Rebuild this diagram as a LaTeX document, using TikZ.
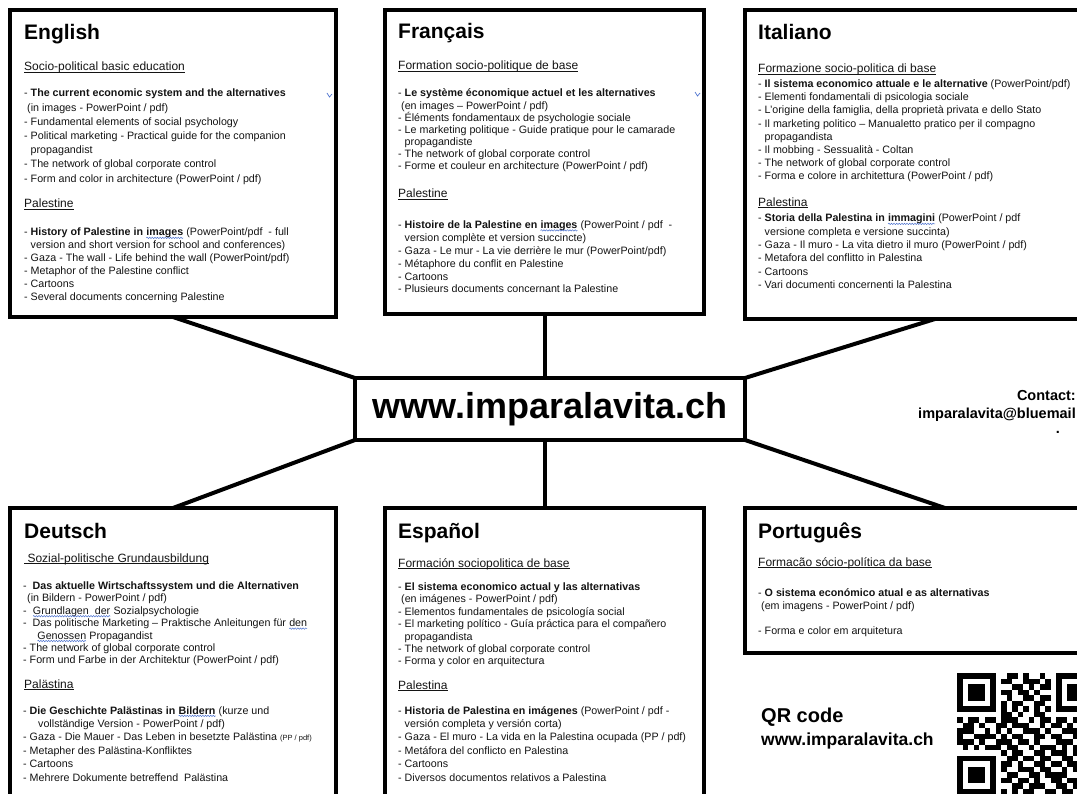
\documentclass[tikz,border=0pt]{standalone}
\usepackage{fontspec}
\setmainfont{Liberation Sans}
\usetikzlibrary{calc,decorations.pathmorphing}
\definecolor{txt}{HTML}{141414}
\definecolor{spell}{HTML}{4F74D0}
\newcommand\spellwave[1]{\tikz[baseline=(sw.base),x=1pt,y=1pt]{\node[inner sep=0pt, outer sep=0pt] (sw) {#1};\draw[spell, line width=0.5pt, decorate, decoration={snake, amplitude=0.7pt, segment length=2.6pt}] ([yshift=-1.9pt]sw.base west) -- ([yshift=-1.9pt]sw.base east);}}
\newsavebox\ulbox
\newcommand\subul[1]{\sbox\ulbox{#1}\rlap{\rule[-1.5pt]{\wd\ulbox}{0.6pt}}\usebox\ulbox}
\newcount\qrcol
\def\qrr{0}
\newcommand\qrrow[2]{\def\qrr{#1}\qrcol=0\relax\qrscan#2\relax}
\def\qrscan#1{\ifx#1\relax\else\if1#1\fill[black] ({957+5.5*\the\qrcol},{673+5.5*\qrr}) rectangle ++(5.6,5.6);\fi\advance\qrcol by 1\relax\expandafter\qrscan\fi}
\begin{document}
\begin{tikzpicture}[x=1pt,y=-1pt,
  box/.style={draw=black, line width=4.2pt, fill=white, anchor=north west, inner sep=0pt, outer sep=0pt},
  conn/.style={draw=black, line width=4pt},
  head/.style={anchor=base west, inner sep=0pt, font=\fontsize{21}{21}\selectfont\bfseries, text=black},
  sub/.style={anchor=base west, inner sep=0pt, font=\fontsize{12}{12}\selectfont, text=txt},
  blk/.style={anchor=base west, inner sep=0pt, text=txt},
  big/.style={font=\fontsize{#1}{#1}\selectfont\bfseries, inner sep=0pt, text=black}]
\useasboundingbox (0,0) rectangle (1077,794);
\clip (0,0) rectangle (1077,794);
\fill[white] (0,0) rectangle (1077,794);

% boxes
\node[box, minimum width=326pt, minimum height=307pt] (en) at (10,10) {};
\node[box, minimum width=319pt, minimum height=304pt] (fr) at (385,10) {};
\node[box, minimum width=380pt, minimum height=309pt] (it) at (745,10) {};
\node[box, minimum width=326pt, minimum height=300pt] (de) at (10,508) {};
\node[box, minimum width=319pt, minimum height=300pt] (es) at (385,508) {};
\node[box, minimum width=400pt, minimum height=145pt] (pt) at (745,508) {};
\node[box, anchor=center, minimum width=390pt, minimum height=62pt, font=\fontsize{36}{36}\selectfont\bfseries] (c) at (550,409) {www.imparalavita.ch};

% connectors
\draw[conn] (en.south) -- (c.north west);
\draw[conn] (fr.south) -- (fr.south |- c.north);
\draw[conn] (it.south) -- (c.north east);
\draw[conn] (de.north) -- (c.south west);
\draw[conn] (es.north) -- (es.north |- c.south);
\draw[conn] (pt.north) -- (c.south east);

% English
\node[head] (en-h) at (24,40) {English};
\node[sub] (en-s1) at (24,71) {\subul{Socio-political basic education}};
\node[blk, font=\fontsize{10.7}{14.2}\selectfont] (en-b1) at (24,97) {\parbox[t]{400pt}{%
- \textbf{The current economic system and the alternatives}\\
\hspace*{3pt}(in images - PowerPoint / pdf)\\
- Fundamental elements of social psychology\\
- Political marketing - Practical guide for the companion\\
\hphantom{- }propagandist\\
- The network of global corporate control\\
- Form and color in architecture (PowerPoint / pdf)}};
\node[sub] (en-s2) at (24,208) {\subul{Palestine}};
\node[blk, font=\fontsize{10.7}{13}\selectfont] (en-b2) at (24,236) {\parbox[t]{400pt}{%
- \textbf{History of Palestine in \spellwave{images}} (PowerPoint/pdf~ - full\\
\hphantom{- }version and short version for school and conferences)\\
- Gaza - The wall - Life behind the wall (PowerPoint/pdf)\\
- Metaphor of the Palestine conflict\\
- Cartoons\\
- Several documents concerning Palestine}};
\draw[spell, line width=0.7pt] (327,93) -- (329.5,97) -- (332,94);

% Francais
\node[head] (fr-h) at (398,39) {Français};
\node[sub] (fr-s1) at (398,70) {\subul{Formation socio-politique de base}};
\node[blk, font=\fontsize{10.7}{12.1}\selectfont] (fr-b1) at (398,97) {\parbox[t]{400pt}{%
- \textbf{Le système économique actuel et les alternatives}\\
\hspace*{3pt}(en images – PowerPoint / pdf)\\
- Éléments fondamentaux de psychologie sociale\\
- Le marketing politique - Guide pratique pour le camarade\\
\hphantom{- }propagandiste\\
- The network of global corporate control\\
- Forme et couleur en architecture (PowerPoint / pdf)}};
\node[sub] (fr-s2) at (398,198) {\subul{Palestine}};
\node[blk, font=\fontsize{10.7}{12.9}\selectfont] (fr-b2) at (398,228.5) {\parbox[t]{400pt}{%
- \textbf{Histoire de la Palestine en \spellwave{images}} (PowerPoint / pdf~ -\\
\hphantom{- }version complète et version succincte)\\
- Gaza - Le mur - La vie derrière le mur (PowerPoint/pdf)\\
- Métaphore du conflit en Palestine\\
- Cartoons\\
- Plusieurs documents concernant la Palestine}};
\draw[spell, line width=0.7pt] (695,92) -- (697.5,96) -- (700,93);

% Italiano
\node[head] (it-h) at (758,40) {Italiano};
\node[sub] (it-s1) at (758,73) {\subul{Formazione socio-politica di base}};
\node[blk, font=\fontsize{10.7}{13.2}\selectfont] (it-b1) at (758,87.5) {\parbox[t]{400pt}{%
- \textbf{Il sistema economico attuale e le alternative} (PowerPoint/pdf)\\
- Elementi fondamentali di psicologia sociale\\
- L’origine della famiglia, della proprietà privata e dello Stato\\
- Il marketing politico – Manualetto pratico per il compagno\\
\hphantom{- }propagandista\\
- Il mobbing - Sessualità - Coltan\\
- The network of global corporate control\\
- Forma e colore in architettura (PowerPoint / pdf)}};
\node[sub] (it-s2) at (758,206.5) {\subul{Palestina}};
\node[blk, font=\fontsize{10.7}{13.3}\selectfont] (it-b2) at (758,222) {\parbox[t]{400pt}{%
- \textbf{Storia della Palestina in \spellwave{immagini}} (PowerPoint / pdf\\
\hphantom{- }versione completa e versione succinta)\\
- Gaza - Il muro - La vita dietro il muro (PowerPoint / pdf)\\
- Metafora del conflitto in Palestina\\
- Cartoons\\
- Vari documenti concernenti la Palestina}};

% Deutsch
\node[head] (de-h) at (24,538) {Deutsch};
\node[sub] (de-s1) at (24,562) {\subul{~Sozial-politische Grundausbildung}};
\node[blk, font=\fontsize{10.7}{12.4}\selectfont] (de-b1) at (23,589.5) {\parbox[t]{400pt}{%
-~ \textbf{Das aktuelle Wirtschaftssystem und die Alternativen}\\
\hspace*{4pt}(in Bildern - PowerPoint / pdf)\\
-~ \spellwave{Grundlagen~ der} Sozialpsychologie\\
-~ Das politische Marketing – Praktische Anleitungen für \spellwave{den}\\
\hspace*{14pt}\spellwave{Genossen} Propagandist\\
- The network of global corporate control\\
- Form und Farbe in der Architektur (PowerPoint / pdf)}};
\node[sub] (de-s2) at (24,688) {\subul{Palästina}};
\node[blk, font=\fontsize{10.7}{13.4}\selectfont] (de-b2) at (23,714) {\parbox[t]{400pt}{%
- \textbf{Die Geschichte Palästinas in \spellwave{Bildern}} (kurze und\\
\hspace*{15pt}vollständige Version - PowerPoint / pdf)\\
- Gaza - Die Mauer - Das Leben in besetzte Palästina {\fontsize{7.5}{9}\selectfont(PP / pdf)}\\
- Metapher des Palästina-Konfliktes\\
- Cartoons\\
- Mehrere Dokumente betreffend~ Palästina}};

% Espanol
\node[head] (es-h) at (398,538) {Español};
\node[sub] (es-s1) at (398,567) {\subul{Formación sociopolitica de base}};
\node[blk, font=\fontsize{10.7}{12.4}\selectfont] (es-b1) at (398,590.5) {\parbox[t]{400pt}{%
- \textbf{El sistema economico actual y las alternativas}\\
\hspace*{3pt}(en imágenes - PowerPoint / pdf)\\
- Elementos fundamentales de psicología social\\
- El marketing político - Guía práctica para el compañero\\
\hphantom{- }propagandista\\
- The network of global corporate control\\
- Forma y color en arquitectura}};
\node[sub] (es-s2) at (398,689) {\subul{Palestina}};
\node[blk, font=\fontsize{10.7}{13.4}\selectfont] (es-b2) at (398,714) {\parbox[t]{400pt}{%
- \textbf{Historia de Palestina en imágenes} (PowerPoint / pdf -\\
\hphantom{- }versión completa y versión corta)\\
- Gaza - El muro - La vida en la Palestina ocupada (PP / pdf)\\
- Metáfora del conflicto en Palestina\\
- Cartoons\\
- Diversos documentos relativos a Palestina}};

% Portugues
\node[head] (pt-h) at (758,538) {Português};
\node[sub] (pt-s1) at (758,566) {\subul{Formacão sócio-política da base}};
\node[blk, font=\fontsize{10.7}{13}\selectfont] (pt-b1) at (758,596) {\parbox[t]{400pt}{%
- \textbf{O sistema económico atual e as alternativas}\\
\hspace*{3pt}(em imagens - PowerPoint / pdf)\\[12pt]
- Forma e color em arquitetura}};

% Contact
\node[big=14.5, anchor=base east] (ct) at (1076,401) {Contact:};
\node[big=14.5, anchor=base east] (cm) at (1076,418) {imparalavita@bluemail};
\node[big=14.5, anchor=base] (cd) at (1058,433) {.};

% QR code
\node[big=20, anchor=base west] (qr-t) at (761,722) {QR code};
\node[big=17.5, anchor=base west] (qr-u) at (761,745) {www.imparalavita.ch};
\qrrow{0}{1111111001101001001111}
\qrrow{1}{1000001011001110101000}
\qrrow{2}{1011101000110101101011}
\qrrow{3}{1011101011011010001011}
\qrrow{4}{1011101001001101101011}
\qrrow{5}{1000001010110011001000}
\qrrow{6}{1111111010101010101111}
\qrrow{7}{0000000011010011000000}
\qrrow{8}{1011011011100101101101}
\qrrow{9}{0110100110111001011010}
\qrrow{10}{1110010101001110100111}
\qrrow{11}{1001111010110011011001}
\qrrow{12}{1110100111011010001110}
\qrrow{13}{0101011101100101110101}
\qrrow{14}{0000000010110011011101}
\qrrow{15}{1111111001101101100110}
\qrrow{16}{1000001011010011011011}
\qrrow{17}{1011101010011101100101}
\qrrow{18}{1011101001100110111100}
\qrrow{19}{1011101011011010011011}
\qrrow{20}{1000001000110111001101}
\qrrow{21}{1111111010101100110110}
\end{tikzpicture}
\end{document}
